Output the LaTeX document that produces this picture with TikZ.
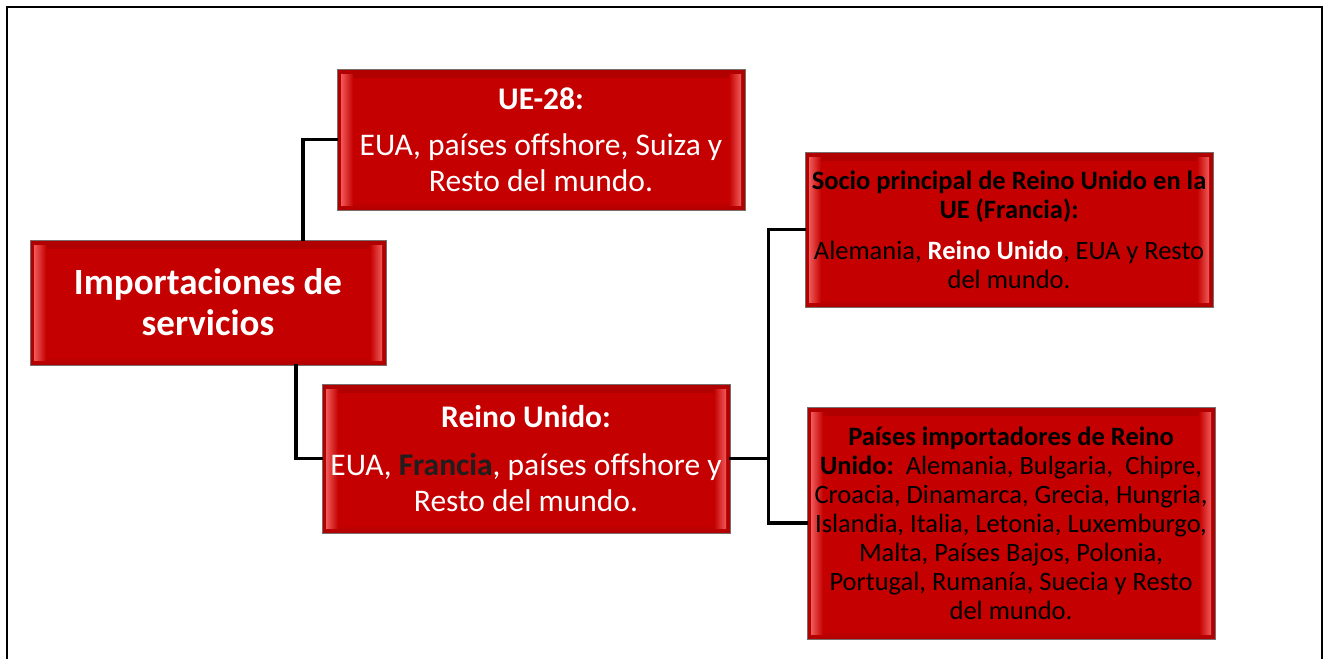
\documentclass[tikz,border=0pt]{standalone}
\usepackage{fontspec}
\setmainfont{Carlito}
\definecolor{boxred}{RGB}{196,0,0}
\definecolor{bevlight}{RGB}{240,90,90}
\definecolor{bevdark}{RGB}{176,0,0}
\definecolor{boxline}{RGB}{120,110,110}
\definecolor{darktext}{RGB}{30,30,30}
\begin{document}
\begin{tikzpicture}[x=1pt,y=-1pt,
  box/.style={draw=boxline, line width=0.8pt, fill=boxred, inner sep=0pt, align=center,
    path picture={
      \fill[top color=bevdark, bottom color=boxred] (path picture bounding box.north west) rectangle ([yshift=-8pt]path picture bounding box.north east);
      \fill[bottom color=bevdark, top color=boxred] ([yshift=8pt]path picture bounding box.south west) rectangle (path picture bounding box.south east);
      \fill[bevdark] (path picture bounding box.south west) rectangle ([xshift=4pt]path picture bounding box.north west);
      \fill[left color=bevlight, right color=boxred] ([xshift=4pt,yshift=5pt]path picture bounding box.south west) rectangle ([xshift=16pt,yshift=-5pt]path picture bounding box.north west);
      \fill[bevdark] ([xshift=-4pt]path picture bounding box.south east) rectangle (path picture bounding box.north east);
      \fill[left color=boxred, right color=bevlight] ([xshift=-16pt,yshift=5pt]path picture bounding box.south east) rectangle ([xshift=-4pt,yshift=-5pt]path picture bounding box.north east);
    }},
  bigtxt/.style={font=\fontsize{37}{41}\selectfont\bfseries, text=white},
  midtxt/.style={font=\fontsize{31.5}{36}\selectfont, text=white},
  smalltxt/.style={font=\fontsize{26.5}{29}\selectfont, text=black},
  conn/.style={line width=3.6pt, black, line cap=rect}
]
\useasboundingbox (0,0) rectangle (1329,659);
\fill[white] (0,0) rectangle (1329,659);
\draw[line width=1.8pt] (7,659) -- (7,7) -- (1322,7) -- (1322,659);

\node[box, bigtxt, minimum width=356pt, minimum height=125pt] (imp) at (208,302.5)
  {Importaciones de\\servicios};
\node[box, midtxt, minimum width=408pt, minimum height=141pt] (ue) at (541,139.5)
  {\textbf{UE-28:}\\[10pt]EUA, países offshore, Suiza y\\Resto del mundo.};
\node[box, midtxt, minimum width=408pt, minimum height=149pt] (ru) at (526,458.5)
  {\textbf{Reino Unido:}\\[12pt]EUA, \textcolor{darktext}{\textbf{Francia}}, países offshore y\\Resto del mundo.};
\node[box, smalltxt, minimum width=408pt, minimum height=155pt] (soc) at (1009,229.5)
  {\textbf{Socio principal de Reino Unido en la}\\\textbf{UE (Francia):}\\[12pt]Alemania, \textcolor{white}{\textbf{Reino Unido}}, EUA y Resto\\del mundo.};
\node[box, smalltxt, minimum width=408pt, minimum height=232pt] (pais) at (1011,523)
  {\textbf{Países importadores de Reino}\\\textbf{Unido:}\ \ Alemania, Bulgaria,\ \ Chipre,\\Croacia, Dinamarca, Grecia, Hungria,\\Islandia, Italia, Letonia, Luxemburgo,\\Malta, Países Bajos, Polonia,\\Portugal, Rumanía, Suecia y Resto\\del mundo.};

\draw[conn] ([xshift=95pt]imp.north) |- (ue.west);
\draw[conn] ([xshift=88pt]imp.south) |- (ru.west);
\draw[conn] (ru.east) -- ++(38,0) coordinate (j);
\draw[conn] (j) |- (soc.west);
\draw[conn] (j) |- (pais.west);
\end{tikzpicture}
\end{document}
